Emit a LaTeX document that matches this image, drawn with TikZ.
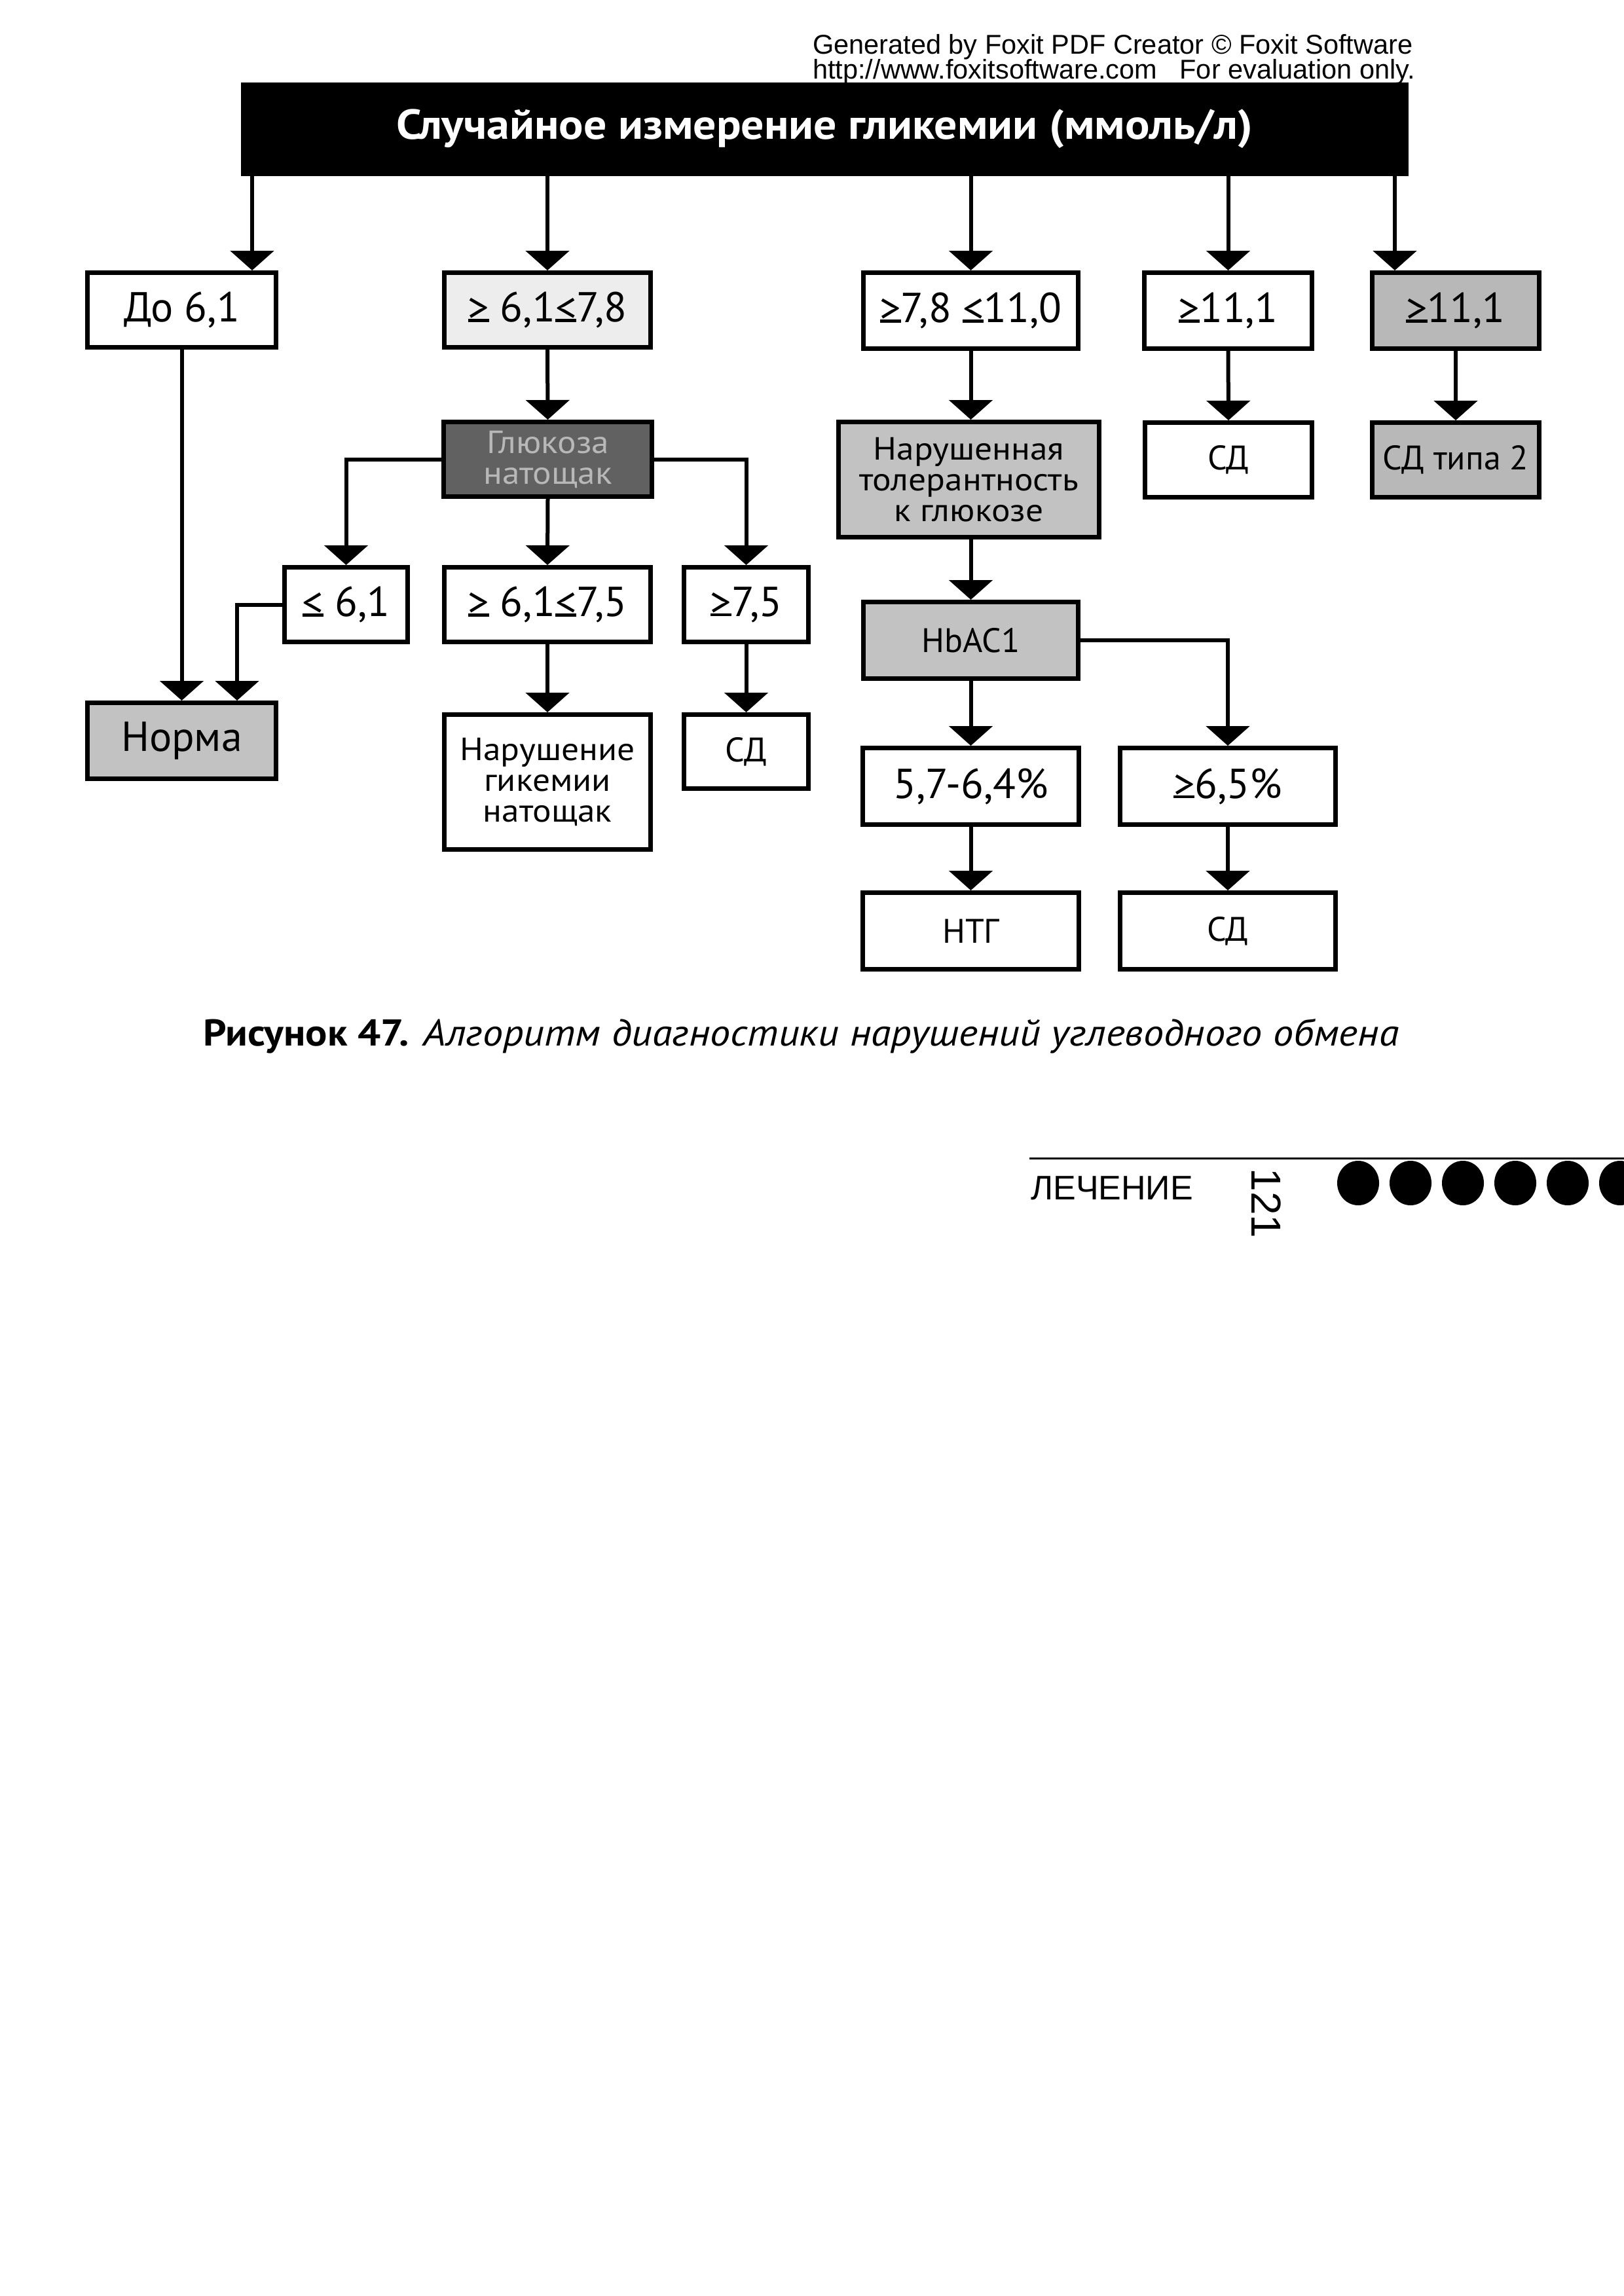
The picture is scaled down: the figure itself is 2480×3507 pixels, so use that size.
\documentclass[tikz,border=0pt]{standalone}
\usepackage{fontspec}
\setmainfont{PT Sans}
\newfontfamily\wmfont{Liberation Sans}
\newfontfamily\widefont[FakeStretch=1.09]{PT Sans}
\usetikzlibrary{arrows.meta,calc}
\newcommand\fsBig{\fontsize{64}{68}\selectfont}
\newcommand\fsMid{\fontsize{52}{56}\selectfont}
\newcommand\fsSm{\widefont\fontsize{49}{47}\selectfont}
\newcommand\hdrfont{\widefont\bfseries\fontsize{64}{66}\selectfont}
\newcommand\capfont{\widefont\fontsize{57}{62}\selectfont}
\newcommand\GEq{\leavevmode\setbox0\hbox{>}\rlap{\rule{\wd0}{0.065em}}\box0\relax}
\newcommand\LEq{\leavevmode\setbox0\hbox{<}\rlap{\rule{\wd0}{0.065em}}\box0\relax}
\definecolor{lightbox}{gray}{0.93}
\definecolor{grayA}{gray}{0.72}
\definecolor{grayB}{gray}{0.76}
\definecolor{darkbox}{gray}{0.38}
\definecolor{darktext}{gray}{0.72}
\tikzset{
  bx/.style={draw=black, line width=7pt, inner sep=0pt, align=center, text=black},
  arr/.style={line width=6pt, -{Triangle[width=66pt,length=30pt]}},
}
\begin{document}
\begin{tikzpicture}[x=1pt,y=-1pt]
\useasboundingbox (0,0) rectangle (2480,3507);
\fill[white] (0,0) rectangle (2480,3507);

% watermark
\node[anchor=base west, inner sep=0pt, font=\wmfont\fontsize{41.5}{42}\selectfont] (wm1) at (1241,82) {Generated by Foxit PDF Creator © Foxit Software};
\node[anchor=base west, inner sep=0pt, font=\wmfont\fontsize{41.5}{42}\selectfont] (wm2) at (1241,120) {http://www.foxitsoftware.com\ \ \ For evaluation only.};

% header
\node[fill=black, draw=black, minimum width=1782pt, minimum height=142pt, inner sep=0pt, text=white, font=\hdrfont] (hdr) at (1259,197) {Случайное измерение гликемии (ммоль/л)};

% row 1
\node[bx, minimum width=288pt, minimum height=114pt, font=\fsBig] (do61) at (277.5,473.5) {До 6,1};
\node[bx, fill=lightbox, minimum width=315pt, minimum height=114pt, font=\fsBig] (b2) at (836,473.5) {\GEq\ 6,1\LEq7,8};
\node[bx, minimum width=328pt, minimum height=116pt, font=\fsBig] (b3) at (1482.5,474.5) {\GEq7,8 \LEq11,0};
\node[bx, minimum width=256pt, minimum height=116pt, font=\fsBig] (b4) at (1875.5,474.5) {\GEq11,1};
\node[bx, fill=grayA, minimum width=255pt, minimum height=116pt, font=\fsBig] (b5) at (2223,474.5) {\GEq11,1};

% row 2
\node[bx, fill=darkbox, text=darktext, minimum width=318pt, minimum height=114pt, font=\fsSm] (glu) at (836.5,701.5) {Глюкоза\\натощак};
\node[bx, fill=grayB, minimum width=398pt, minimum height=176pt, font=\fsSm] (ntg1) at (1479.5,732.5) {Нарушенная\\толерантность\\к глюкозе};
\node[bx, minimum width=255pt, minimum height=114pt, font=\fsMid] (sd4) at (1876,702.5) {СД};
\node[bx, fill=grayA, minimum width=255pt, minimum height=114pt, font=\fsMid] (sd2t) at (2223,702.5) {СД типа 2};

% row 3
\node[bx, minimum width=188pt, minimum height=114pt, font=\fsBig] (le61) at (528.5,923.5) {\LEq\ 6,1};
\node[bx, minimum width=315pt, minimum height=114pt, font=\fsBig] (b6175) at (836,923.5) {\GEq\ 6,1\LEq7,5};
\node[bx, minimum width=190pt, minimum height=114pt, font=\fsBig] (ge75) at (1139.5,923.5) {\GEq7,5};
\node[bx, fill=grayB, minimum width=328pt, minimum height=117pt, font=\fsMid] (hba) at (1482.5,978) {HbAC1};

% row 4
\node[bx, fill=grayB, minimum width=288pt, minimum height=116pt, font=\fsBig] (norma) at (277.5,1131.5) {Норма};
\node[bx, minimum width=315pt, minimum height=206pt, font=\fsSm] (ng) at (836,1194.5) {Нарушение\\гикемии\\натощак};
\node[bx, minimum width=190pt, minimum height=113pt, font=\fsMid] (sd3) at (1139.5,1148) {СД};
\node[bx, minimum width=330pt, minimum height=117pt, font=\fsBig] (p5764) at (1482.5,1201) {5,7-6,4\%};
\node[bx, minimum width=329pt, minimum height=117pt, font=\fsBig] (p65) at (1875,1201) {\GEq6,5\%};

% row 5
\node[bx, minimum width=330pt, minimum height=117pt, font=\fsMid] (ntg) at (1482.5,1422) {НТГ};
\node[bx, minimum width=329pt, minimum height=117pt, font=\fsMid] (sd5) at (1875,1422) {СД};

% connectors
\path ([xshift=107.5pt]do61.north) coordinate (t1);
\draw[arr] (t1 |- hdr.south) -- (t1);
\draw[arr] (b2.north |- hdr.south) -- (b2.north);
\draw[arr] (b3.north |- hdr.south) -- (b3.north);
\draw[arr] (b4.north |- hdr.south) -- (b4.north);
\path ([xshift=-93pt]b5.north) coordinate (t5);
\draw[arr] (t5 |- hdr.south) -- (t5);

\draw[arr] (do61.south) -- (norma.north);
\path ([xshift=84.5pt]norma.north) coordinate (n2);
\draw[arr] (le61.west) -| (n2);
\draw[arr] (b2.south) -- (glu.north);
\draw[arr] (glu.west) -| (le61.north);
\draw[arr] (glu.south) -- (b6175.north);
\draw[arr] (glu.east) -| (ge75.north);
\draw[arr] (b6175.south) -- (ng.north);
\draw[arr] (ge75.south) -- (sd3.north);

\draw[arr] (b3.south) -- (b3.south |- ntg1.north);
\draw[arr] (hba.north |- ntg1.south) -- (hba.north);
\draw[arr] (hba.south) -- (p5764.north);
\draw[arr] (hba.east) -| (p65.north);
\draw[arr] (p5764.south) -- (ntg.north);
\draw[arr] (p65.south) -- (sd5.north);
\draw[arr] (b4.south) -- (sd4.north);
\draw[arr] (b5.south) -- (sd2t.north);

% caption
\node[anchor=base west, inner sep=0pt, font=\capfont] (cap) at (310,1597) {\textbf{Рисунок 47.} \textit{Алгоритм диагностики нарушений углеводного обмена}};

% footer
\coordinate (fl) at (1572,1769);
\coordinate (fr) at (2480,1769);
\draw[line width=3pt] (fl) -- (fr);
\node[anchor=base west, inner sep=0pt, font=\wmfont\fontsize{52}{54}\selectfont] (lech) at (1574,1832) {ЛЕЧЕНИЕ};
\node[rotate=-90, inner sep=0pt, font=\wmfont\fontsize{64}{66}\selectfont] (pg) at (1934,1838) {121};
\foreach \i in {0,...,5}
  \fill[black] (2074+80*\i,1807) ellipse [x radius=32pt, y radius=34pt];
\end{tikzpicture}
\end{document}
